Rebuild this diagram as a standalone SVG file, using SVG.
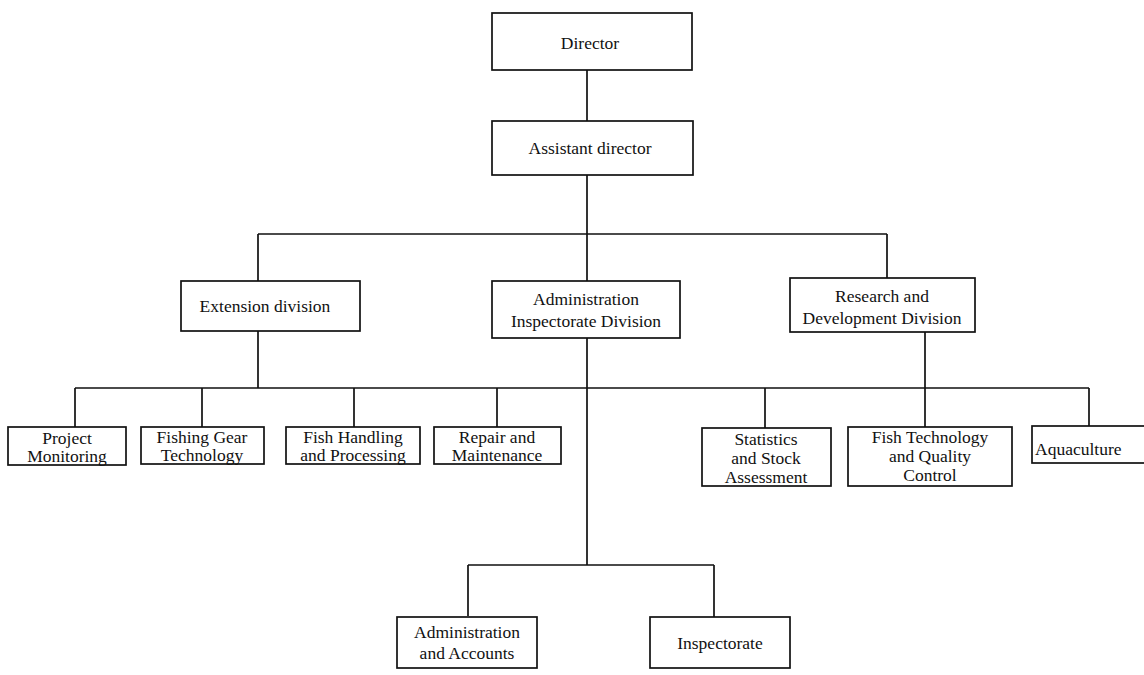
<svg xmlns="http://www.w3.org/2000/svg" width="1144" height="675" viewBox="0 0 1144 675">
<style>
.box{fill:#fff;stroke:#111;stroke-width:1.7}
.ln{fill:none;stroke:#111;stroke-width:1.7}
text{font-family:"Liberation Serif","Times New Roman",serif;font-size:17.5px;fill:#111;text-anchor:middle}
</style>
<rect width="1144" height="675" fill="#fff"/>
<g id="connectors">
<path class="ln" d="M587 70V121M587 175V281M258 234H887M258 234V281M887 234V278"/>
<path class="ln" d="M258 331V388M925 332V427M75 388H1089M75 388V427M202 388V427M354 388V427M497 388V427M765 388V428M1089 388V426"/>
<path class="ln" d="M587 338V565M468 565H714M468 565V616M714 565V617"/>
</g>
<g id="director"><rect class="box" x="492" y="13" width="200" height="57"/><text x="590" y="49">Director</text></g>
<g id="assistant"><rect class="box" x="492" y="121" width="201" height="54"/><text x="590" y="154">Assistant director</text></g>
<g id="extension"><rect class="box" x="181" y="281" width="179" height="50"/><text x="265" y="312">Extension division</text></g>
<g id="admin"><rect class="box" x="492" y="281" width="188" height="57"/><text x="586" y="305">Administration</text><text x="586" y="327">Inspectorate Division</text></g>
<g id="research"><rect class="box" x="790" y="278" width="185" height="54"/><text x="882" y="302">Research and</text><text x="882" y="324">Development Division</text></g>
<g id="project"><rect class="box" x="8" y="427" width="118" height="38"/><text x="67" y="444">Project</text><text x="67" y="462">Monitoring</text></g>
<g id="fishing-gear"><rect class="box" x="141" y="427" width="123" height="37"/><text x="202" y="443">Fishing Gear</text><text x="202" y="461">Technology</text></g>
<g id="fish-handling"><rect class="box" x="286" y="427" width="134" height="37"/><text x="353" y="443">Fish Handling</text><text x="353" y="461">and Processing</text></g>
<g id="repair"><rect class="box" x="434" y="427" width="127" height="37"/><text x="497" y="443">Repair and</text><text x="497" y="461">Maintenance</text></g>
<g id="statistics"><rect class="box" x="702" y="428" width="129" height="58"/><text x="766" y="445">Statistics</text><text x="766" y="464">and Stock</text><text x="766" y="483">Assessment</text></g>
<g id="fish-tech"><rect class="box" x="848" y="427" width="164" height="59"/><text x="930" y="443">Fish Technology</text><text x="930" y="462">and Quality</text><text x="930" y="481">Control</text></g>
<g id="aquaculture"><rect class="box" x="1032" y="426" width="120" height="37"/><text x="1035" y="455" style="text-anchor:start">Aquaculture</text></g>
<g id="admin-accounts"><rect class="box" x="397" y="617" width="140" height="51"/><text x="467" y="638">Administration</text><text x="467" y="659">and Accounts</text></g>
<g id="inspectorate"><rect class="box" x="650" y="617" width="140" height="51"/><text x="720" y="649">Inspectorate</text></g>
</svg>
